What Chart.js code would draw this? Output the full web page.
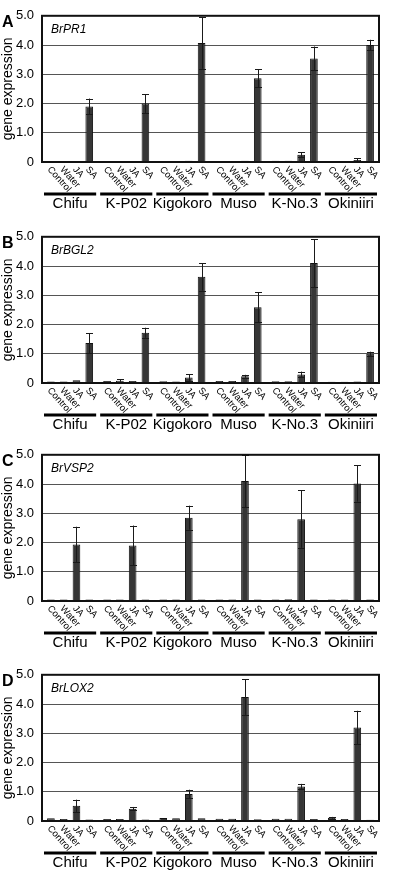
<!DOCTYPE html>
<html>
<head>
<meta charset="utf-8">
<script src="https://cdn.jsdelivr.net/npm/chart.js@4.4.0/dist/chart.umd.min.js"></script>
<style>
  html, body { margin: 0; padding: 0; background: #fff; overflow: hidden; }
  .panel { position: absolute; left: 0; width: 407px; height: 219px; }
</style>
</head>
<body>
<div class="panel" style="top:0px"><canvas id="chartA" width="407" height="219"></canvas></div>
<div class="panel" style="top:221px"><canvas id="chartB" width="407" height="219"></canvas></div>
<div class="panel" style="top:439px"><canvas id="chartC" width="407" height="219"></canvas></div>
<div class="panel" style="top:659px"><canvas id="chartD" width="407" height="219"></canvas></div>
<script>
const cultivars = ['Chifu', 'K-P02', 'Kigokoro', 'Muso', 'K-No.3', 'Okiniiri'];
const treatments = ['Control', 'Water', 'JA', 'SA'];
const yTicks = [0, 1, 2, 3, 4, 5];

// rows: Control, Water, JA, SA ; columns: cultivars
const pr1Mean = [
  [0.02, 0.02, 0.02, 0.03, 0.04, 0.03],
  [0.02, 0.02, 0.02, 0.03, 0.04, 0.03],
  [0.02, 0.02, 0.04, 0.04, 0.25, 0.07],
  [1.90, 2.00, 4.07, 2.86, 3.54, 4.00]
];
const pr1Err = [
  [0, 0, 0, 0, 0, 0],
  [0, 0, 0, 0, 0, 0],
  [0, 0, 0, 0, 0.09, 0.05],
  [0.27, 0.32, 0.88, 0.31, 0.41, 0.18]
];

const bgl2Mean = [
  [0.05, 0.07, 0.06, 0.07, 0.06, 0.04],
  [0.05, 0.08, 0.05, 0.07, 0.06, 0.04],
  [0.09, 0.07, 0.19, 0.23, 0.29, 0.05],
  [1.37, 1.72, 3.63, 2.59, 4.10, 1.00]
];
const bgl2Err = [
  [0, 0, 0, 0, 0, 0],
  [0, 0.04, 0, 0, 0, 0],
  [0, 0, 0.11, 0.05, 0.10, 0],
  [0.34, 0.17, 0.47, 0.51, 0.82, 0.07]
];

const vsp2Mean = [
  [0.05, 0.05, 0.05, 0.05, 0.05, 0.05],
  [0.05, 0.05, 0.05, 0.05, 0.06, 0.05],
  [1.93, 1.90, 2.85, 4.10, 2.80, 4.02],
  [0.05, 0.05, 0.05, 0.05, 0.05, 0.05]
];
const vsp2Err = [
  [0, 0, 0, 0, 0, 0],
  [0, 0, 0, 0, 0, 0],
  [0.61, 0.68, 0.41, 0.90, 0.98, 0.62],
  [0, 0, 0, 0, 0, 0]
];

const lox2Mean = [
  [0.09, 0.07, 0.10, 0.08, 0.08, 0.11],
  [0.07, 0.07, 0.09, 0.08, 0.08, 0.07],
  [0.52, 0.42, 0.92, 4.24, 1.18, 3.20],
  [0.05, 0.05, 0.09, 0.06, 0.07, 0.04]
];
const lox2Err = [
  [0, 0, 0, 0, 0, 0.03],
  [0, 0, 0, 0, 0, 0],
  [0.21, 0.06, 0.15, 0.61, 0.09, 0.57],
  [0, 0, 0, 0, 0, 0]
];

const FONT = '"Liberation Sans", Arial, Helvetica, sans-serif';

// error bars, frame, treatment labels, group underlines, panel letter, gene name
const panelDecor = {
  id: 'panelDecor',
  afterDatasetsDraw(chart) {
    const ctx = chart.ctx;
    const y = chart.scales.y;
    ctx.save();
    ctx.strokeStyle = '#1a1a1a';
    ctx.lineWidth = 1;
    chart.data.datasets.forEach((ds, i) => {
      chart.getDatasetMeta(i).data.forEach((bar, j) => {
        const e = ds.err[j];
        if (!e) return;
        const v = ds.data[j];
        const top = y.getPixelForValue(v + e);
        const bot = y.getPixelForValue(Math.max(v - e, 0));
        const cx = Math.round(bar.x) + 0.5;
        ctx.beginPath();
        ctx.moveTo(cx, top); ctx.lineTo(cx, bot);
        ctx.moveTo(cx - 3.5, Math.round(top) + 0.5); ctx.lineTo(cx + 3.5, Math.round(top) + 0.5);
        ctx.moveTo(cx - 3.5, Math.round(bot) + 0.5); ctx.lineTo(cx + 3.5, Math.round(bot) + 0.5);
        ctx.stroke();
      });
    });
    ctx.restore();
  },
  afterDraw(chart, args, opts) {
    const ctx = chart.ctx;
    const area = chart.chartArea;
    const x = chart.scales.x;
    ctx.save();
    // plot frame
    ctx.strokeStyle = '#111';
    ctx.lineWidth = 2;
    ctx.strokeRect(area.left, area.top, area.right - area.left, area.bottom - area.top);

    // treatment labels under each bar
    ctx.fillStyle = '#000';
    ctx.font = '9.5px ' + FONT;
    ctx.textAlign = 'left';
    ctx.textBaseline = 'middle';
    chart.data.datasets.forEach((ds, i) => {
      chart.getDatasetMeta(i).data.forEach((bar) => {
        ctx.save();
        ctx.translate(bar.x - 2, area.bottom + 6);
        ctx.rotate(48 * Math.PI / 180);
        ctx.fillText(treatments[i], 0, 0);
        ctx.restore();
      });
    });

    // group underlines
    const w = (area.right - area.left) / cultivars.length;
    ctx.strokeStyle = '#000';
    ctx.lineWidth = 3;
    cultivars.forEach((c, j) => {
      const cx = x.getPixelForValue(j);
      ctx.beginPath();
      ctx.moveTo(cx - w / 2 + 2, area.bottom + 32);
      ctx.lineTo(cx + w / 2 - 2, area.bottom + 32);
      ctx.stroke();
    });

    // panel letter
    ctx.textBaseline = 'top';
    ctx.font = 'bold 16px ' + FONT;
    ctx.fillText(opts.letter, 2, area.top - 1);
    // gene name
    ctx.font = 'italic 12px ' + FONT;
    ctx.fillText(opts.gene, area.left + 9, area.top + 8);
    ctx.restore();
  }
};

function makePanel(id, letter, gene, means, errs) {
  const datasets = treatments.map((t, i) => ({
    label: t,
    data: means[i],
    err: errs[i],
    backgroundColor: '#363636',
    borderColor: '#111',
    borderWidth: 1,
    barPercentage: 0.6,
    categoryPercentage: 0.91
  }));

  new Chart(document.getElementById(id), {
    type: 'bar',
    data: { labels: cultivars, datasets: datasets },
    options: {
      responsive: false,
      animation: false,
      devicePixelRatio: 1,
      layout: { autoPadding: false, padding: { top: 4, right: 2, left: 0, bottom: 0 } },
      plugins: {
        legend: { display: false },
        tooltip: { enabled: false },
        panelDecor: { letter: letter, gene: gene }
      },
      scales: {
        x: {
          grid: { display: false, drawTicks: false },
          border: { display: false },
          ticks: {
            color: '#000',
            font: { family: FONT, size: 15 },
            padding: 33,
            maxRotation: 0,
            autoSkip: false
          },
          afterFit: (s) => { s.height = 57; }
        },
        y: {
          min: 0,
          max: 5,
          afterBuildTicks: (s) => { s.ticks = yTicks.map(v => ({ value: v })); },
          grid: {
            drawTicks: false,
            color: (c) => (c.tick && (c.tick.value === 0 || c.tick.value === 5)) ? 'rgba(0,0,0,0)' : '#555',
            lineWidth: 1
          },
          border: { display: false },
          ticks: {
            color: '#000',
            font: { family: FONT, size: 13 },
            padding: 8,
            callback: (v) => v === 0 ? '0' : Number(v).toFixed(1)
          },
          title: {
            display: true,
            text: 'gene expression',
            color: '#000',
            font: { family: FONT, size: 14 },
            padding: 0
          },
          afterFit: (s) => { s.width = 42; }
        }
      }
    },
    plugins: [panelDecor]
  });
}

makePanel('chartA', 'A', 'BrPR1', pr1Mean, pr1Err);
makePanel('chartB', 'B', 'BrBGL2', bgl2Mean, bgl2Err);
makePanel('chartC', 'C', 'BrVSP2', vsp2Mean, vsp2Err);
makePanel('chartD', 'D', 'BrLOX2', lox2Mean, lox2Err);
</script>
</body>
</html>
